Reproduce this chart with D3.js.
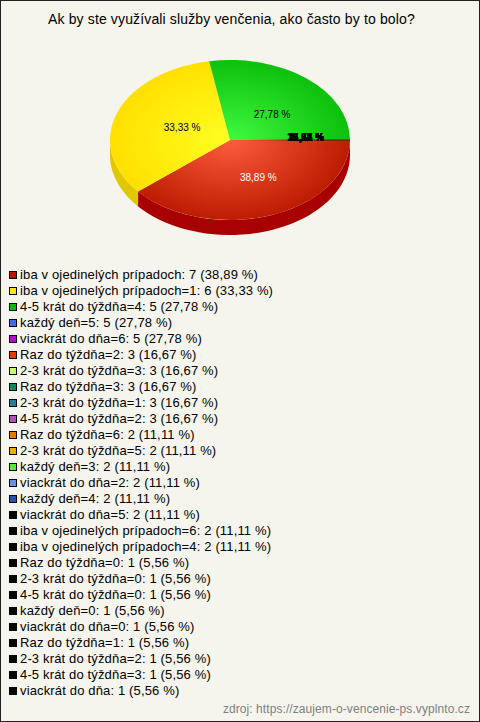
<!DOCTYPE html>
<html><head><meta charset="utf-8">
<script src="https://cdnjs.cloudflare.com/ajax/libs/d3/7.8.5/d3.min.js"></script>
<style>html,body{margin:0;padding:0;background:#f5f5ee}svg{display:block}</style>
</head><body><div id="c"></div>
<script>
const title = "Ak by ste využívali služby venčenia, ako často by to bolo?";
const source = "zdroj: https://zaujem-o-vencenie-ps.vyplnto.cz";
const categories = ["iba v ojedinelých prípadoch","iba v ojedinelých prípadoch=1","4-5 krát do týždňa=4","každý deň=5","viackrát do dňa=6","Raz do týždňa=2","2-3 krát do týždňa=3","Raz do týždňa=3","2-3 krát do týždňa=1","4-5 krát do týždňa=2","Raz do týždňa=6","2-3 krát do týždňa=5","každý deň=3","viackrát do dňa=2","každý deň=4","viackrát do dňa=5","iba v ojedinelých prípadoch=6","iba v ojedinelých prípadoch=4","Raz do týždňa=0","2-3 krát do týždňa=0","4-5 krát do týždňa=0","každý deň=0","viackrát do dňa=0","Raz do týždňa=1","2-3 krát do týždňa=2","4-5 krát do týždňa=3","viackrát do dňa"];
const counts = [7,6,5,5,5,3,3,3,3,3,2,2,2,2,2,2,2,2,1,1,1,1,1,1,1,1,1];
const percents = ["38,89","33,33","27,78","27,78","27,78","16,67","16,67","16,67","16,67","16,67","11,11","11,11","11,11","11,11","11,11","11,11","11,11","11,11","5,56","5,56","5,56","5,56","5,56","5,56","5,56","5,56","5,56"];
// The pie itself only gives area to the first three answers; the rest collapse to nothing at the seam.
const sliceShares = [38.89,33.33,27.78,0,0,0,0,0,0,0,0,0,0,0,0,0,0,0,0,0,0,0,0,0,0,0,0];
const swatches = ["#b81400","#ffe600","#0cbc0c","#4169e8","#b010c8","#e04000","#c8ff70","#108858","#208098","#b050b0","#e87800","#e8b000","#58e838","#6890e0","#2850b0","#000000","#000000","#000000","#000000","#000000","#000000","#000000","#000000","#000000","#000000","#000000","#000000"];

const W=480,H=722,cx=230,cy=140,rx=120,ry=80,depth=15;
const svg=d3.select("#c").append("svg").attr("width",W).attr("height",H);
const FONT='"Liberation Sans",Arial,sans-serif';
svg.append("rect").attr("x",.5).attr("y",.5).attr("width",W-1).attr("height",H-1).attr("fill","#f5f5ee").attr("stroke","#222");

svg.append("text").attr("x",48).attr("y",24).attr("font-family",FONT).attr("font-size",14).attr("letter-spacing",.14).attr("fill","#000").text(title);

const slices=d3.pie().sort(null).startAngle(Math.PI/2).endAngle(Math.PI/2+2*Math.PI).value(d=>d)(sliceShares);
const defs=svg.append("defs");
const sliceTone=[["#ff5c3e","#bc1c00","#a80000"],["#ffff20","#ffe000","#e0c800"],["#40fa40","#0cc00c","#0a9a0a"]];
sliceTone.forEach((t,i)=>{
  const g=defs.append("radialGradient").attr("id","g"+i).attr("gradientUnits","userSpaceOnUse").attr("cx",0).attr("cy",0).attr("r",rx);
  g.append("stop").attr("offset",0).attr("stop-color",t[0]);
  g.append("stop").attr("offset",1).attr("stop-color",t[1]);
});
const seam=defs.append("linearGradient").attr("id","seam").attr("gradientUnits","userSpaceOnUse").attr("x1",0).attr("x2",rx).attr("y1",0).attr("y2",0);
[[.15,0],[.4,.45],[.6,.9],[1,1]].forEach(s=>seam.append("stop").attr("offset",s[0]).attr("stop-color","#3a2a10").attr("stop-opacity",s[1]));
const root=svg.append("g").attr("transform",`translate(${cx},${cy})`);
const px=a=>Math.sin(a)*rx, py=a=>-Math.cos(a)*ry;
const FRONT0=Math.PI/2, FRONT1=Math.PI*1.5;
slices.forEach((s,i)=>{
  if(s.endAngle-s.startAngle<=0) return;
  const a0=Math.max(s.startAngle,FRONT0),a1=Math.min(s.endAngle,FRONT1);
  if(a1<=a0) return;
  const pts=d3.range(0,41).map(k=>a0+(a1-a0)*k/40);
  const top=pts.map(a=>[px(a),py(a)]);
  const bot=pts.slice().reverse().map(a=>[px(a),py(a)+depth]);
  root.append("path").attr("d",d3.line()(top.concat(bot))+"Z").attr("fill",sliceTone[i][2]);
});
const arc=d3.arc().innerRadius(0).outerRadius(rx);
slices.forEach((s,i)=>{
  if(s.endAngle-s.startAngle<=0) return;
  root.append("g").attr("transform",`scale(1,${ry/rx})`).append("path").attr("d",arc(s)).attr("fill",`url(#g${i})`);
});
root.append("rect").attr("x",0).attr("y",-.5).attr("width",rx).attr("height",1).attr("fill","url(#seam)");

const labelFx=[.69,.425,.545], labelFy=[.5,.44,.41], restRight=94, restDy=-3;
const lab=root.append("g").attr("font-family",FONT).attr("font-size",10);
slices.forEach((s,i)=>{
  const m=(s.startAngle+s.endAngle)/2;
  const big=i<3;
  const x=big?Math.sin(m)*rx*labelFx[i]:restRight;
  const y=big?-Math.cos(m)*ry*labelFy[i]:restDy;
  lab.append("text").attr("x",x).attr("y",y+3.5).attr("text-anchor",big?"middle":"end").attr("fill",i==0?"#fff":"#000").text(percents[i]+" %");
});

const y=d3.scalePoint().domain(d3.range(categories.length)).range([271,687]);
const leg=svg.append("g").attr("font-family",FONT).attr("font-size",13).attr("letter-spacing",.15);
categories.forEach((c,i)=>{
  const yy=Math.round(y(i));
  leg.append("rect").attr("x",9.5).attr("y",yy+.5).attr("width",7).attr("height",7).attr("fill",swatches[i]).attr("stroke","#000");
  leg.append("text").attr("x",20).attr("y",yy+7.5).attr("fill","#000").text(`${c}: ${counts[i]} (${percents[i]} %)`);
});
svg.append("text").attr("x",470).attr("y",713).attr("text-anchor","end").attr("font-family",FONT).attr("font-size",12).attr("letter-spacing",.08).attr("fill","#808080").text(source);
</script></body></html>
